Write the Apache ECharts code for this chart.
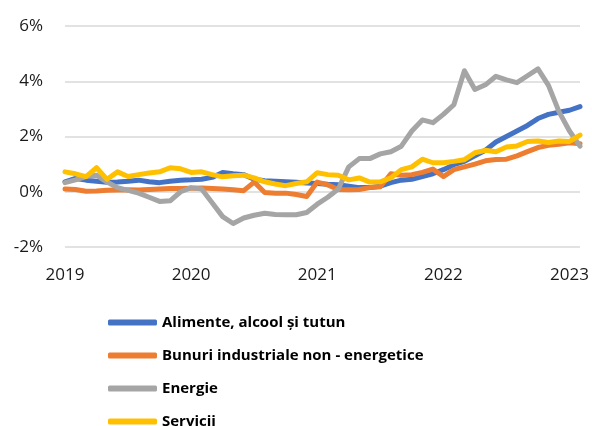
<!DOCTYPE html>
<html>
<head>
<meta charset="utf-8">
<script src="https://cdn.jsdelivr.net/npm/echarts@6/dist/echarts.min.js"></script>
<style>
  html, body { margin: 0; padding: 0; background: #fff; }
  #chart { width: 592px; height: 426px; }
</style>
</head>
<body>
<div id="chart"></div>
<script>
// months Jan 2019 .. Feb 2023
const months = [];
for (let y = 2019; y <= 2023; y++) {
  for (let m = 1; m <= 12; m++) {
    if (y === 2023 && m > 2) break;
    months.push(y + '-' + String(m).padStart(2, '0'));
  }
}

const yTicks = [-2, 0, 2, 4, 6];

const alimente = [0.36, 0.48, 0.42, 0.38, 0.34, 0.35, 0.38, 0.42, 0.36, 0.33, 0.38, 0.42,
  0.43, 0.45, 0.52, 0.70, 0.65, 0.62, 0.45, 0.40, 0.38, 0.36, 0.34, 0.32,
  0.30, 0.27, 0.25, 0.20, 0.15, 0.15, 0.20, 0.33, 0.42, 0.45, 0.55, 0.65,
  0.80, 0.98, 1.10, 1.30, 1.50, 1.80, 2.00, 2.20, 2.40, 2.65, 2.80, 2.88,
  2.95, 3.08];

const bunuri = [0.10, 0.08, 0.02, 0.03, 0.05, 0.06, 0.07, 0.06, 0.08, 0.10, 0.12, 0.12,
  0.13, 0.14, 0.12, 0.10, 0.07, 0.04, 0.35, -0.03, -0.05, -0.05, -0.10, -0.17,
  0.35, 0.25, 0.08, 0.07, 0.08, 0.15, 0.18, 0.65, 0.60, 0.62, 0.70, 0.82,
  0.55, 0.80, 0.90, 1.00, 1.12, 1.17, 1.18, 1.30, 1.45, 1.60, 1.68, 1.72,
  1.77, 1.74];

const energie = [0.33, 0.43, 0.55, 0.60, 0.35, 0.15, 0.05, -0.05, -0.20, -0.35, -0.33, 0.00,
  0.15, 0.10, -0.40, -0.90, -1.15, -0.95, -0.85, -0.78, -0.82, -0.83, -0.83, -0.75,
  -0.45, -0.20, 0.10, 0.90, 1.20, 1.20, 1.37, 1.45, 1.65, 2.20, 2.60, 2.50,
  2.80, 3.15, 4.38, 3.70, 3.87, 4.18, 4.05, 3.95, 4.20, 4.45, 3.85, 2.90,
  2.20, 1.65];

const servicii = [0.72, 0.65, 0.55, 0.87, 0.45, 0.72, 0.55, 0.62, 0.68, 0.72, 0.87, 0.83,
  0.70, 0.72, 0.62, 0.54, 0.58, 0.60, 0.50, 0.36, 0.28, 0.22, 0.30, 0.36,
  0.69, 0.62, 0.60, 0.43, 0.50, 0.35, 0.36, 0.50, 0.80, 0.90, 1.18, 1.05,
  1.05, 1.10, 1.16, 1.41, 1.50, 1.45, 1.62, 1.66, 1.82, 1.84, 1.78, 1.84,
  1.82, 2.05];

const seriesNames = ['Alimente, alcool și tutun', 'Bunuri industriale non - energetice', 'Energie', 'Servicii'];
const seriesData = [alimente, bunuri, energie, servicii];
const colors = ['#4472C4', '#ED7D31', '#A5A5A5', '#FFC000'];

const chart = echarts.init(document.getElementById('chart'));

chart.setOption({
  animation: false,
  color: colors,
  grid: { left: 65, right: 12, top: 26, bottom: 179 },
  legend: {
    orient: 'vertical',
    left: 103,
    top: 307,
    height: 220,
    itemWidth: 49,
    itemHeight: 6,
    itemGap: 12,
    icon: 'roundRect',
    data: seriesNames,
    textStyle: { fontFamily: 'Open Sans', fontSize: 15, fontWeight: 'bold', color: '#000', lineHeight: 21 }
  },
  xAxis: {
    type: 'category',
    data: months,
    boundaryGap: false,
    axisLine: { show: false },
    axisTick: { show: false },
    axisLabel: {
      interval: (i) => i % 12 === 0,
      formatter: (v) => v.slice(0, 4),
      margin: 20,
      fontFamily: 'Open Sans',
      fontSize: 17,
      color: '#1a1a1a'
    }
  },
  yAxis: {
    type: 'value',
    min: yTicks[0],
    max: yTicks[yTicks.length - 1],
    interval: 2,
    axisLabel: {
      formatter: '{value}%',
      margin: 22,
      fontFamily: 'Open Sans',
      fontSize: 17,
      color: '#1a1a1a'
    },
    splitLine: { lineStyle: { color: '#d9d9d9', width: 1.5 } }
  },
  series: seriesNames.map((name, k) => ({
    name: name,
    type: 'line',
    data: seriesData[k],
    symbol: 'none',
    smooth: false,
    lineStyle: { width: 5, color: colors[k], cap: 'round', join: 'round' }
  }))
});
</script>
</body>
</html>
